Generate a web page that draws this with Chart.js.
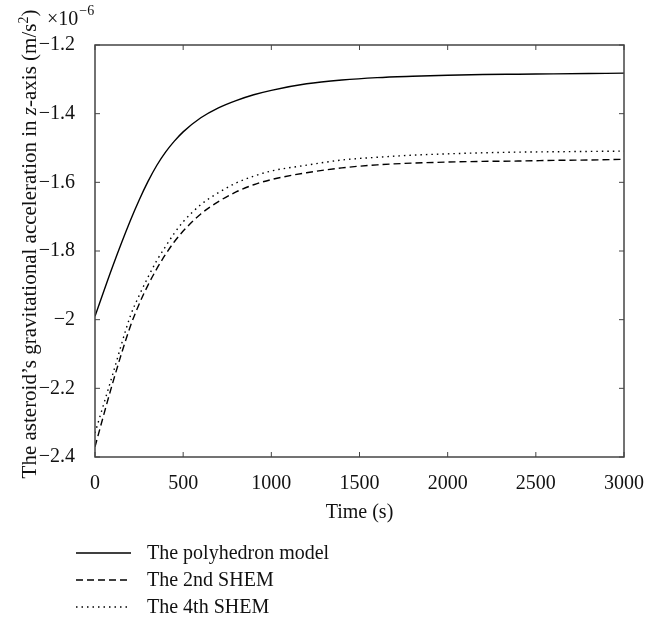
<!DOCTYPE html>
<html lang="en">
<head>
    <meta charset="UTF-8">
    <title>Gravitational acceleration</title>
    <script src="https://cdn.jsdelivr.net/npm/chart.js@4"></script>
    <style>
        body { margin: 0; background: #fff; }
        #wrap { width: 656px; height: 618px; position: relative; }
    </style>
</head>
<body>
    <div id="wrap"><canvas id="canvas"></canvas></div>
    <script>
        // time axis (s)
        const times = [0, 100, 200, 250, 300, 350, 400, 450, 500, 600, 700, 800, 900, 1000, 1200, 1400, 1600, 1800, 2000, 2200, 2400, 2600, 2800, 3000];
        // values in units of 1e-6 m/s^2
        const polyhedron = [-1.99, -1.845, -1.712, -1.652, -1.598, -1.551, -1.512, -1.48, -1.453, -1.412, -1.383, -1.362, -1.345, -1.332, -1.313, -1.302, -1.295, -1.291, -1.288, -1.286, -1.285, -1.284, -1.283, -1.282];
        const shem2 = [-2.37, -2.185, -2.02, -1.955, -1.90, -1.852, -1.81, -1.773, -1.742, -1.692, -1.656, -1.628, -1.607, -1.592, -1.572, -1.558, -1.549, -1.544, -1.541, -1.539, -1.538, -1.536, -1.535, -1.533];
        const shem4 = [-2.33, -2.16, -1.99, -1.93, -1.877, -1.828, -1.787, -1.748, -1.715, -1.665, -1.63, -1.602, -1.582, -1.567, -1.55, -1.535, -1.527, -1.521, -1.517, -1.514, -1.512, -1.511, -1.510, -1.509];
        const xTicks = [0, 500, 1000, 1500, 2000, 2500, 3000];
        const yTicks = [-2.4, -2.2, -2, -1.8, -1.6, -1.4, -1.2];
        const seriesNames = ['The polyhedron model', 'The 2nd SHEM', 'The 4th SHEM'];
        const dashes = [[], [7, 4], [1.5, 4]];

        const FONT = '"Liberation Serif", "DejaVu Serif", serif';

        function toPoints(arr) {
            return times.map((t, i) => ({ x: t, y: arr[i] }));
        }

        // frame, inward ticks, titles, exponent and legend
        const decor = {
            id: 'decor',
            afterDraw(chart) {
                const ctx = chart.ctx;
                const a = chart.chartArea;
                const xs = chart.scales.x, ys = chart.scales.y;
                ctx.save();
                ctx.strokeStyle = '#444';
                ctx.lineWidth = 1.5;
                ctx.strokeRect(a.left, a.top, a.right - a.left, a.bottom - a.top);
                ctx.lineWidth = 1;
                ctx.beginPath();
                xTicks.forEach(v => {
                    const px = xs.getPixelForValue(v);
                    ctx.moveTo(px, a.bottom); ctx.lineTo(px, a.bottom - 5);
                    ctx.moveTo(px, a.top); ctx.lineTo(px, a.top + 5);
                });
                yTicks.forEach(v => {
                    const py = ys.getPixelForValue(v);
                    ctx.moveTo(a.left, py); ctx.lineTo(a.left + 5, py);
                    ctx.moveTo(a.right, py); ctx.lineTo(a.right - 5, py);
                });
                ctx.stroke();

                ctx.fillStyle = '#111';
                // exponent label
                ctx.textBaseline = 'alphabetic';
                ctx.textAlign = 'left';
                ctx.font = '20px ' + FONT;
                ctx.fillText('\u00d710', 47, 25);
                const w10 = ctx.measureText('\u00d710').width;
                ctx.font = '14px ' + FONT;
                ctx.fillText('\u22126', 47 + w10 + 1, 15);

                // x axis title
                ctx.font = '20px ' + FONT;
                ctx.textAlign = 'center';
                ctx.textBaseline = 'middle';
                ctx.fillText('Time (s)', (a.left + a.right) / 2, 513);

                // y axis title, rotated, with italic z and superscript 2
                ctx.textAlign = 'left';
                ctx.textBaseline = 'alphabetic';
                const parts = [
                    ['The asteroid\u2019s gravitational acceleration in ', '21px ' + FONT, 0],
                    ['z', 'italic 21px ' + FONT, 0],
                    ['-axis (m/s', '21px ' + FONT, 0],
                    ['2', '14px ' + FONT, -8],
                    [')', '21px ' + FONT, 0]
                ];
                let total = 0;
                parts.forEach(p => { ctx.font = p[1]; total += ctx.measureText(p[0]).width; });
                ctx.save();
                ctx.translate(36, 244);
                ctx.rotate(-Math.PI / 2);
                let x = -total / 2;
                parts.forEach(p => {
                    ctx.font = p[1];
                    ctx.fillText(p[0], x, p[2]);
                    x += ctx.measureText(p[0]).width;
                });
                ctx.restore();

                // legend
                ctx.font = '20px ' + FONT;
                ctx.textBaseline = 'middle';
                seriesNames.forEach((name, i) => {
                    const y = 553 + i * 27;
                    ctx.setLineDash(dashes[i]);
                    ctx.lineWidth = 1.3;
                    ctx.strokeStyle = '#000';
                    ctx.beginPath();
                    ctx.moveTo(76, y); ctx.lineTo(131, y);
                    ctx.stroke();
                    ctx.setLineDash([]);
                    ctx.fillText(name, 147, y + 1);
                });
                ctx.restore();
            }
        };

        const ctx = document.getElementById('canvas').getContext('2d');
        const makeSet = (label, arr, i) => ({
            label: label,
            data: toPoints(arr),
            borderColor: '#000',
            borderWidth: 1.4,
            borderDash: dashes[i],
            pointRadius: 0,
            fill: false,
            cubicInterpolationMode: 'monotone'
        });

        new Chart(ctx, {
            type: 'line',
            data: {
                datasets: [
                    makeSet(seriesNames[0], polyhedron, 0),
                    makeSet(seriesNames[1], shem2, 1),
                    makeSet(seriesNames[2], shem4, 2)
                ]
            },
            options: {
                responsive: true,
                maintainAspectRatio: false,
                animation: false,
                layout: { padding: { left: 0, top: 45, right: 32, bottom: 0 } },
                plugins: { legend: { display: false }, tooltip: { enabled: false } },
                scales: {
                    x: {
                        type: 'linear',
                        min: 0, max: 3000,
                        grid: { display: false },
                        border: { display: false },
                        afterFit: s => { s.height = 161; },
                        afterBuildTicks: s => { s.ticks = xTicks.map(v => ({ value: v })); },
                        ticks: {
                            color: '#111',
                            padding: 7,
                            maxRotation: 0,
                            font: { family: FONT, size: 20 },
                            callback: v => String(v)
                        }
                    },
                    y: {
                        min: -2.4, max: -1.2,
                        grid: { display: false },
                        border: { display: false },
                        afterFit: s => { s.width = 95; },
                        afterBuildTicks: s => { s.ticks = yTicks.map(v => ({ value: v })); },
                        ticks: {
                            color: '#111',
                            padding: 12,
                            font: { family: FONT, size: 20 },
                            callback: v => '\u2212' + Math.abs(Math.round(v * 10) / 10)
                        }
                    }
                }
            },
            plugins: [decor]
        });
    </script>
</body>
</html>
